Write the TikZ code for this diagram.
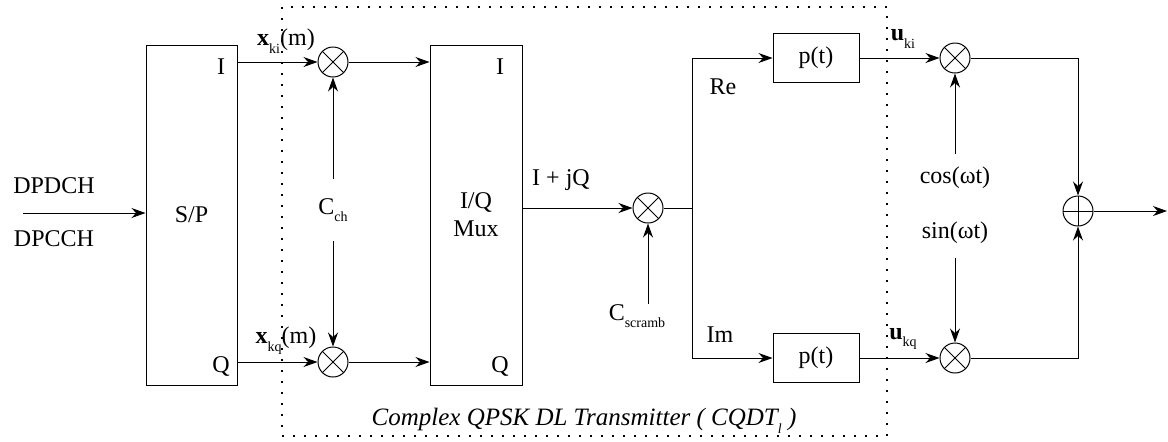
\documentclass[tikz,border=0pt]{standalone}
\usepackage{fontspec}
\setmainfont{Liberation Serif}
\usetikzlibrary{positioning,arrows.meta,calc}
\newcommand{\lowsub}[1]{\raisebox{-0.7ex}{\scriptsize #1}}

\begin{document}
\begin{tikzpicture}[x=0.5pt,y=-0.5pt,>={Stealth[length=7pt,width=5pt]},line width=0.5pt,
  font=\fontsize{12}{14}\selectfont,
  blk/.style={draw,line width=0.5pt,inner sep=0pt},
  mix/.style={draw,circle,minimum size=15pt,inner sep=0pt,
    path picture={\draw (path picture bounding box.north west) -- (path picture bounding box.south east)
      (path picture bounding box.south west) -- (path picture bounding box.north east);}},
  adder/.style={draw,circle,minimum size=15pt,inner sep=0pt,
    path picture={\draw (path picture bounding box.north) -- (path picture bounding box.south)
      (path picture bounding box.west) -- (path picture bounding box.east);}},
  gap/.style={inner sep=0pt,minimum height=#1}]
\useasboundingbox (0,0) rectangle (1168,441);
% dotted frame round the transmitter
\draw[line width=0.6pt,dash pattern=on 1pt off 4.5pt] (282,7) rectangle (887,436);
\node[font=\fontsize{12.5}{14}\selectfont\itshape] (cqdt) at (584,421) {Complex QPSK DL Transmitter ( CQDT\lowsub{l} )};

% input and serial/parallel
\node (dpdch) at (54,186) {DPDCH};
\node (dpcch) at (54,239) {DPCCH};
\coordinate (in) at (23,213);
\node[blk,minimum width=45.5pt,minimum height=170pt] (sp) at (191.5,215) {S/P};
\node (spi) at (221,67) {I};
\node (spq) at (221,366) {Q};
\draw[->] (in) -- (in -| sp.west);

% channelisation
\node[mix] (mi) at (333,62) {};
\node[mix] (mq) at (333,362) {};
\node (xki) at (286,41) {\textbf{x}\lowsub{ki}(m)};
\node (xkq) at (286,341) {\textbf{x}\lowsub{kq}(m)};
\node[gap=30.5pt] (cch) at (333,210) {C\lowsub{ch}};
\draw[->] (mi -| sp.east) -- (mi);
\draw[->] (mq -| sp.east) -- (mq);
\draw[->] (cch) -- (mi);
\draw[->] (cch) -- (mq);

% I/Q multiplexer
\node[blk,minimum width=46pt,minimum height=170pt,align=center] (mux) at (476,215) {I/Q\\Mux};
\node (muxi) at (500,67) {I};
\node (muxq) at (500,366) {Q};
\draw[->] (mi) -- (mi -| mux.west);
\draw[->] (mq) -- (mq -| mux.west);

% scrambling
\node[mix] (ms) at (648,208) {};
\node (iq) at (561,180) {I + jQ};
\node[inner sep=0pt] (csc) at (637,316) {C\lowsub{scramb}};
\draw[->] (ms -| mux.east) -- (ms);
\draw[->] (csc.north -| ms) -- (ms);

% real and imaginary branches
\coordinate (br) at (692,208);
\node[blk,minimum width=43pt,minimum height=24.5pt] (pti) at (816,58) {p(t)};
\node[blk,minimum width=43pt,minimum height=24.5pt] (ptq) at (816,358) {p(t)};
\node (re) at (723,87) {Re};
\node (im) at (720,335) {Im};
\draw (ms) -- (br);
\draw[->] (br) |- (pti);
\draw[->] (br) |- (ptq);

% carrier modulation
\node[mix] (mc) at (955,58) {};
\node[mix] (mn) at (955,358) {};
\node (uki) at (903,39) {\textbf{u}\lowsub{ki}};
\node (ukq) at (903,339) {\textbf{u}\lowsub{kq}};
\node[gap=24pt] (cos) at (955,178) {cos(ωt)};
\node[gap=24pt] (sin) at (955,233) {sin(ωt)};
\draw[->] (pti) -- (mc);
\draw[->] (ptq) -- (mn);
\draw[->] (cos) -- (mc);
\draw[->] (sin) -- (mn);

% sum and output
\node[adder] (sum) at (1078,211) {};
\coordinate (out) at (1167,211);
\draw[->] (mc) -| (sum);
\draw[->] (mn) -| (sum);
\draw[->] (sum) -- (out);
\end{tikzpicture}
\end{document}
